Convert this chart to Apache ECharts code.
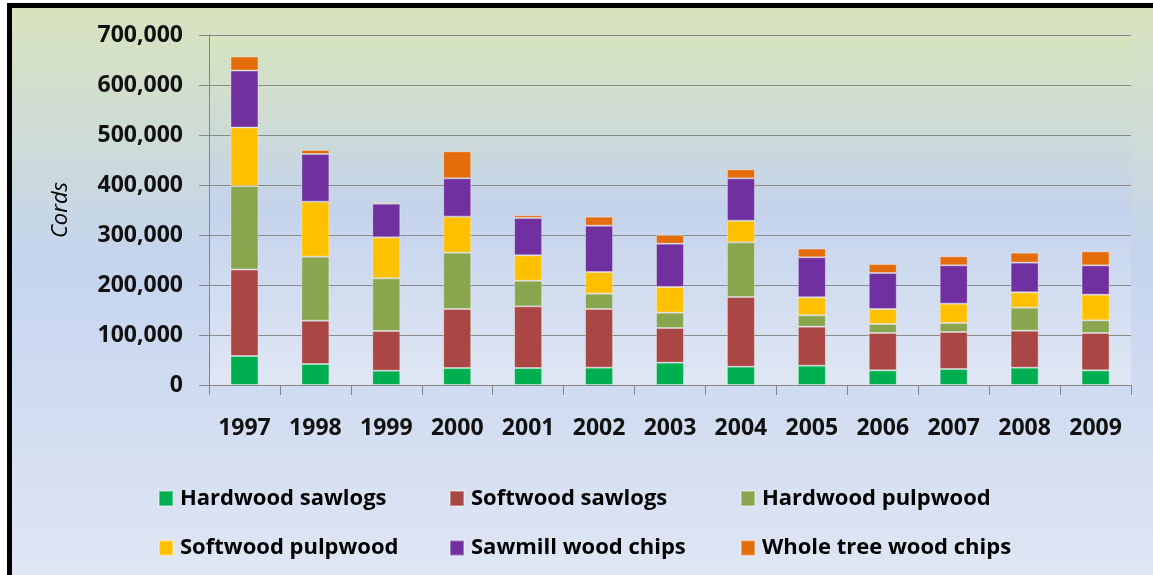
<!DOCTYPE html>
<html>
<head>
<meta charset="utf-8">
<script src="https://cdn.jsdelivr.net/npm/echarts@6/dist/echarts.min.js"></script>
<style>
html,body{margin:0;padding:0;background:#fff;}
#chart{width:1153px;height:575px;}
</style>
</head>
<body>
<div id="chart"></div>
<script>
const years = ['1997','1998','1999','2000','2001','2002','2003','2004','2005','2006','2007','2008','2009'];
const hardwoodSawlogs   = [58000, 42000, 28700, 34000, 34000, 34700, 44700, 36700, 38700, 29300, 32000, 34700, 29300];
const softwoodSawlogs   = [173000, 86700, 79300, 118000, 123300, 117300, 69300, 139300, 78000, 74700, 74000, 74000, 74700];
const hardwoodPulpwood  = [167000, 128000, 105300, 112700, 51300, 30700, 30700, 109300, 22700, 18000, 18000, 46000, 25300];
const softwoodPulpwood  = [117000, 110000, 82000, 72000, 50700, 43300, 51300, 43300, 36000, 30000, 38700, 30700, 51300];
const sawmillWoodChips  = [114000, 95300, 67300, 76700, 74700, 92700, 86700, 84700, 80000, 72000, 76700, 59300, 58700];
const wholeTreeChips    = [28000, 8000, 2700, 54000, 5300, 18000, 17300, 18000, 17300, 18000, 18000, 20000, 28000];
const seriesNames = ['Hardwood sawlogs','Softwood sawlogs','Hardwood pulpwood','Softwood pulpwood','Sawmill wood chips','Whole tree wood chips'];
const seriesData = [hardwoodSawlogs, softwoodSawlogs, hardwoodPulpwood, softwoodPulpwood, sawmillWoodChips, wholeTreeChips];
const colors = ['#00B050','#AA4643','#89A54E','#FFC000','#7030A0','#E46C0A'];
const yTicks = [0, 100000, 200000, 300000, 400000, 500000, 600000, 700000];

const FONT = '"Open Sans", Lato, sans-serif';
const chart = echarts.init(document.getElementById('chart'), null, {renderer: 'canvas'});

const legendText = {fontFamily: FONT, fontSize: 22, fontWeight: 'bold', color: '#000', width: 269, lineHeight: 15, padding: [0,0,0,2]};
const option = {
  animation: false,
  backgroundColor: {
    type: 'linear', x: 0, y: 0, x2: 0, y2: 1,
    colorStops: [
      {offset: 0, color: '#D8E4BC'},
      {offset: 0.45, color: '#C5D4EE'},
      {offset: 1, color: '#DFE6F4'}
    ]
  },
  color: colors,
  grid: {
    left: 209, right: 22, top: 35, bottom: 190,
    show: true, borderWidth: 0,
    backgroundColor: {
      type: 'linear', x: 0, y: 0, x2: 0, y2: 1,
      colorStops: [
        {offset: 0, color: '#D7E4BE'},
        {offset: 0.5, color: '#C4D3EC'},
        {offset: 1, color: '#E0E7F4'}
      ]
    }
  },
  legend: [
    {
      data: seriesNames.slice(0,3), left: 158, top: 487.5, width: 900, orient: 'horizontal', padding: 0,
      itemWidth: 14, itemHeight: 15, itemGap: 0, icon: 'rect', textStyle: legendText
    },
    {
      data: seriesNames.slice(3), left: 158, top: 537, width: 900, orient: 'horizontal', padding: 0,
      itemWidth: 14, itemHeight: 15, itemGap: 0, icon: 'rect', textStyle: legendText
    }
  ],
  xAxis: {
    type: 'category', data: years,
    axisLine: {lineStyle: {color: '#868686', width: 1}},
    axisTick: {show: true, length: 10, lineStyle: {color: '#868686'}},
    axisLabel: {fontFamily: FONT, fontSize: 23, fontWeight: 'bold', color: '#111', margin: 32}
  },
  yAxis: {
    type: 'value', min: 0, max: 700000, interval: 100000,
    name: 'Cords', nameLocation: 'middle', nameGap: 137,
    nameTextStyle: {fontFamily: FONT, fontSize: 22, fontStyle: 'italic', color: '#000'},
    axisLine: {show: true, lineStyle: {color: '#868686', width: 1}},
    axisTick: {show: true, length: 10, lineStyle: {color: '#868686'}},
    splitLine: {lineStyle: {color: '#8A8A8A', width: 1.2}},
    axisLabel: {fontFamily: FONT, fontSize: 23, fontWeight: 'bold', color: '#111', margin: 26,
      formatter: v => yTicks.indexOf(v) >= 0 ? v.toLocaleString('en-US') : ''}
  },
  series: seriesData.map((d, i) => ({
    name: seriesNames[i], type: 'bar', stack: 'total', data: d, barWidth: 28,
    itemStyle: {color: colors[i], borderColor: 'rgba(255,255,255,0.35)', borderWidth: 1}
  })),
  graphic: [
    {type: 'rect', shape: {x: 0, y: 0, width: 1153, height: 3}, style: {fill: '#fff'}, z: 100},
    {type: 'rect', shape: {x: 0, y: 0, width: 7, height: 575}, style: {fill: '#fff'}, z: 100},
    {type: 'rect', shape: {x: 7, y: 3, width: 1146, height: 5}, style: {fill: '#000'}, z: 101},
    {type: 'rect', shape: {x: 7, y: 3, width: 5, height: 572}, style: {fill: '#000'}, z: 101}
  ]
};
chart.setOption(option);
</script>
</body>
</html>
